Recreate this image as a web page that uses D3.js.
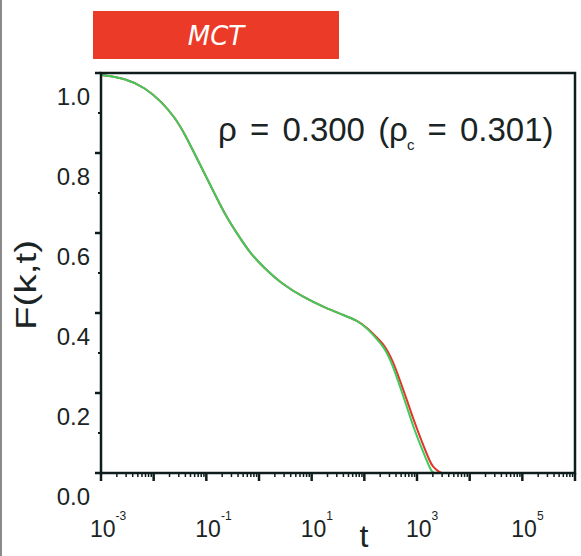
<!DOCTYPE html>
<html lang="en">
<head>
<meta charset="utf-8">
<title>MCT F(k,t)</title>
<script src="https://d3js.org/d3.v7.min.js"></script>
<style>
  body { margin: 0; background: #fff; }
  svg { display: block; }
</style>
</head>
<body>
<div id="chart"></div>
<script>
// log10(t) sample points
var logT = [-3, -2.54, -2.16, -1.85, -1.59, -1.40, -1.21, -1.02, -0.83, -0.64,
            -0.40, -0.17, 0.08, 0.46, 0.84, 1.22, 1.60, 1.87, 2.06,
            2.25, 2.36, 2.45, 2.55, 2.68, 2.81, 2.93, 3.10, 3.25, 3.30, 3.40, 3.47]
var greenF = [0.995, 0.987, 0.963, 0.928, 0.888, 0.845, 0.795, 0.745, 0.695, 0.645,
              0.595, 0.550, 0.515, 0.470, 0.440, 0.415, 0.395, 0.381, 0.361,
              0.333, 0.316, 0.295, 0.265, 0.215, 0.165, 0.115, 0.058, 0.010, 0, 0, 0]
var redF = [0.995, 0.987, 0.963, 0.928, 0.888, 0.845, 0.795, 0.745, 0.695, 0.645,
            0.595, 0.550, 0.515, 0.470, 0.440, 0.415, 0.395, 0.381, 0.362,
            0.337, 0.322, 0.303, 0.277, 0.230, 0.182, 0.135, 0.075, 0.027, 0.016, 0.004, 0]
var yTicks = [0, 0.2, 0.4, 0.6, 0.8, 1.0]
var yMinor = [0.1, 0.3, 0.5, 0.7, 0.9]
var xLabelExp = [-3, -1, 1, 3, 5]

var width = 581, height = 556
var axisColor = "#0e1c1c"

var svg = d3.select("#chart").append("svg")
    .attr("width", width)
    .attr("height", height)

// grey strip on the left edge of the scan
svg.append("rect").attr("x", 0).attr("y", 0).attr("width", 2).attr("height", height)
    .attr("fill", "#8a8a8a")

var x = d3.scaleLog().domain([1e-3, 1e6]).range([101, 575])
var y = d3.scaleLinear().domain([0, 1]).range([473, 73])

// MCT banner
svg.append("rect")
    .attr("x", 93).attr("y", 11).attr("width", 246).attr("height", 48)
    .attr("fill", "#ec3a28")
svg.append("text")
    .attr("x", 216).attr("y", 45)
    .attr("text-anchor", "middle")
    .attr("font-family", "DejaVu Sans")
    .attr("font-style", "italic")
    .attr("font-size", 26)
    .attr("fill", "#fff")
    .text("MCT")

// curves
var pts = function(vals) {
    return logT.map(function(l, i) { return [Math.pow(10, l), vals[i]] })
}
var line = d3.line()
    .x(function(d) { return x(d[0]) })
    .y(function(d) { return y(d[1]) })
    .curve(d3.curveBasis)

svg.append("path").datum(pts(redF))
    .attr("d", line).attr("fill", "none")
    .attr("stroke", "#e2362a").attr("stroke-width", 2)
svg.append("path").datum(pts(greenF))
    .attr("d", line).attr("fill", "none")
    .attr("stroke", "#3fcb5c").attr("stroke-width", 2)

// frame
var g = svg.append("g").attr("stroke", axisColor).attr("fill", "none")
g.append("rect")
    .attr("x", x.range()[0]).attr("y", y(1))
    .attr("width", x.range()[1] - x.range()[0]).attr("height", y(0) - y(1))
    .attr("stroke-width", 2.5)

// y ticks
yTicks.forEach(function(v) {
    g.append("line").attr("x1", 95).attr("x2", 101).attr("y1", y(v)).attr("y2", y(v))
        .attr("stroke-width", 2.5)
})
yMinor.forEach(function(v) {
    g.append("line").attr("x1", 98).attr("x2", 101).attr("y1", y(v)).attr("y2", y(v))
        .attr("stroke-width", 2)
})
// x ticks (log, major + minor)
for (var e = -3; e <= 6; e++) {
    var t0 = Math.pow(10, e)
    g.append("line").attr("x1", x(t0)).attr("x2", x(t0)).attr("y1", 473).attr("y2", 481)
        .attr("stroke-width", 2.5)
    if (e < 6) {
        for (var m = 2; m <= 9; m++) {
            g.append("line").attr("x1", x(m * t0)).attr("x2", x(m * t0))
                .attr("y1", 473).attr("y2", 477).attr("stroke-width", 1.5)
        }
    }
}

// y tick labels (sit lower than their ticks in the original)
svg.selectAll(".ylab").data(yTicks).enter().append("text")
    .attr("x", 90).attr("y", function(d) { return y(d) + 32 })
    .attr("text-anchor", "end")
    .attr("font-family", "Liberation Sans, Arial")
    .attr("font-size", 24)
    .attr("fill", "#1a2424")
    .text(function(d) { return d.toFixed(1) })

// x tick labels 10^n
xLabelExp.forEach(function(n) {
    var tx = svg.append("text")
        .attr("x", x(Math.pow(10, n)) - 11).attr("y", 537)
        .attr("font-family", "Liberation Sans, Arial")
        .attr("font-size", 23)
        .attr("fill", "#1a2424")
    tx.append("tspan").text("10")
    tx.append("tspan").attr("dy", -17).attr("font-size", 12).text(n)
})

// axis titles
svg.append("text")
    .attr("x", 364).attr("y", 547)
    .attr("text-anchor", "middle")
    .attr("font-family", "Liberation Sans, Arial")
    .attr("font-size", 32)
    .attr("fill", "#1a2424")
    .text("t")
svg.append("text")
    .attr("transform", "translate(36,285) rotate(-90)")
    .attr("text-anchor", "middle")
    .attr("font-family", "Liberation Sans, Arial")
    .attr("font-size", 30)
    .attr("textLength", 90)
    .attr("lengthAdjust", "spacingAndGlyphs")
    .attr("fill", "#1a2424")
    .text("F(k,t)")

// annotation
var ann = svg.append("text")
    .attr("x", 218).attr("y", 141)
    .attr("font-family", "Liberation Sans, Arial")
    .attr("font-size", 33)
    .attr("word-spacing", 4)
    .attr("fill", "#1a2424")
ann.append("tspan").text("\u03c1 = 0.300 (\u03c1")
ann.append("tspan").attr("dx", -1).attr("dy", 9).attr("font-size", 15).text("c")
ann.append("tspan").attr("dy", -9).text(" = 0.301)")
</script>
</body>
</html>
